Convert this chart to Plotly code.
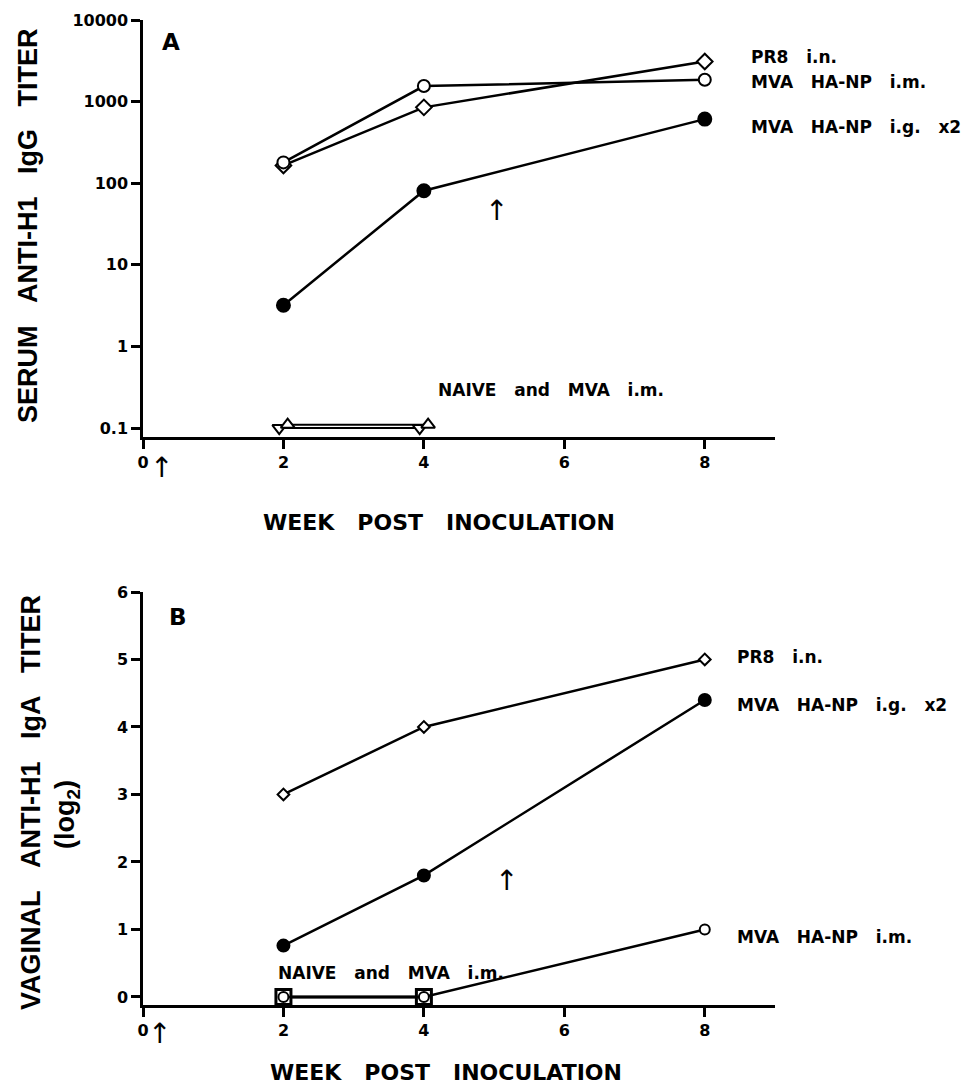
import plotly.graph_objects as go

# ---------------- DATA ----------------
weeks = [2, 4, 8]
# Panel A: serum anti-H1 IgG titer (log scale)
a_pr8_in = [165, 850, 3100]
a_mva_hanp_im = [180, 1550, 1850]
a_mva_hanp_ig = [3.2, 81, 610]
a_naive_weeks = [1.94, 3.94]
a_naive = [0.1, 0.1]
a_mva_im_weeks = [2.06, 4.06]
a_mva_im = [0.11, 0.11]

# Panel B: vaginal anti-H1 IgA titer (log2)
b_pr8_in = [3.0, 4.0, 5.0]
b_mva_hanp_ig = [0.76, 1.8, 4.4]
b_mva_hanp_im = [0.0, 0.0, 1.0]
b_naive_weeks = [2, 4]
b_naive = [0.0, 0.0]

x_ticks = [0, 2, 4, 6, 8]
a_ticks = [0.1, 1, 10, 100, 1000, 10000]
a_ticktext = ["0.1", "1", "10", "100", "1000", "10000"]
b_ticks = [0, 1, 2, 3, 4, 5, 6]

DJ = "DejaVu Sans"
LIB = "Liberation Sans, Arial, Helvetica, sans-serif"
W, H = 964, 1091
NB = "\u00a0"

def sp(s, n=3):
    return s.replace(" ", NB * n)

fig = go.Figure()

def line_trace(x, y, symbol, fill, size, xa, ya, lw=2.5, mlw=2):
    return go.Scatter(
        x=x, y=y, mode="lines+markers", xaxis=xa, yaxis=ya,
        line=dict(color="black", width=lw),
        marker=dict(symbol=symbol, size=size, color=fill,
                    line=dict(color="black", width=mlw)),
        cliponaxis=False, showlegend=False)

# Panel A traces
fig.add_trace(line_trace(a_naive_weeks, a_naive, "triangle-down", "white", 12, "x", "y", lw=2))
fig.add_trace(line_trace(a_mva_im_weeks, a_mva_im, "triangle-up", "white", 12, "x", "y", lw=2))
fig.add_trace(line_trace(weeks, a_pr8_in, "diamond", "white", 12, "x", "y"))
fig.add_trace(line_trace(weeks, a_mva_hanp_im, "circle", "white", 12, "x", "y"))
fig.add_trace(line_trace(weeks, a_mva_hanp_ig, "circle", "black", 13, "x", "y"))

# Panel B traces
fig.add_trace(line_trace(b_naive_weeks, b_naive, "square", "white", 15, "x2", "y2", lw=3, mlw=3))
fig.add_trace(line_trace(weeks, b_mva_hanp_im, "circle", "white", 10, "x2", "y2"))
fig.add_trace(line_trace(weeks, b_pr8_in, "diamond", "white", 9, "x2", "y2"))
fig.add_trace(line_trace(weeks, b_mva_hanp_ig, "circle", "black", 12, "x2", "y2"))

# domains from pixel layout
xdom = [143 / W, 775 / W]
ydomA = [1 - 437 / H, 1 - 20 / H]
ydomB = [1 - 1005 / H, 1 - 592 / H]

tickfont = dict(family=DJ, size=16, color="black", weight="bold")
axis_style = dict(ticks="outside", ticklen=9, tickwidth=2.5, showline=True, linewidth=2.5,
                  linecolor="black", showgrid=False, zeroline=False, tickfont=tickfont,
                  tickcolor="black", automargin=False)

fig.update_layout(
    template="none",
    width=W, height=H, margin=dict(l=0, r=0, t=0, b=0, pad=0),
    paper_bgcolor="white", plot_bgcolor="white", showlegend=False,
    xaxis=dict(domain=xdom, anchor="y", range=[0, 9], tickvals=x_ticks, **axis_style),
    yaxis=dict(domain=ydomA, anchor="x", type="log", range=[-1.11, 4],
               tickvals=a_ticks, ticktext=a_ticktext, **axis_style),
    xaxis2=dict(domain=xdom, anchor="y2", range=[0, 9], tickvals=x_ticks, **axis_style),
    yaxis2=dict(domain=ydomB, anchor="x2", range=[-0.12, 6], tickvals=b_ticks, **axis_style),
)

lab_font = dict(family=DJ, size=17, color="black", weight="bold")
big_font = dict(family=DJ, size=23, color="black", weight="bold")
arrow_font = dict(family=DJ, size=28, color="black")
xt_font = dict(family=DJ, size=22, color="black", weight="bold")
yt_font = dict(family=LIB, size=27, color="black", weight="bold")

def ann(text, x, y, xref, yref, font, xanchor="left", yanchor="middle", angle=0):
    fig.add_annotation(text=text, x=x, y=y, xref=xref, yref=yref, showarrow=False,
                       font=font, xanchor=xanchor, yanchor=yanchor, textangle=angle)

# Panel A in-plot labels (log axis -> log10 coordinates)
ann(sp("PR8 i.n."), 8.63, 3.55, "x", "y", lab_font)
ann(sp("MVA HA-NP i.m."), 8.63, 3.24, "x", "y", lab_font)
ann(sp("MVA HA-NP i.g. x2"), 8.63, 2.69, "x", "y", lab_font)
ann(sp("NAIVE and MVA i.m."), 5.81, -0.53, "x", "y", lab_font, xanchor="center")
ann("A", 0.4, 3.73, "x", "y", big_font, xanchor="center")
ann("↑", 5.03, 1.66, "x", "y", arrow_font, xanchor="center")
ann("↑", 0.26, 1 - 468 / H, "x", "paper", arrow_font, xanchor="center")

# Panel B in-plot labels
ann(sp("PR8 i.n."), 8.43, 5.04, "x2", "y2", lab_font)
ann(sp("MVA HA-NP i.g. x2"), 8.43, 4.33, "x2", "y2", lab_font)
ann(sp("MVA HA-NP i.m."), 8.43, 0.89, "x2", "y2", lab_font)
ann(sp("NAIVE and MVA i.m."), 3.53, 0.36, "x2", "y2", lab_font, xanchor="center")
ann("B", 0.5, 5.63, "x2", "y2", big_font, xanchor="center")
ann("↑", 5.17, 1.73, "x2", "y2", arrow_font, xanchor="center")
ann("↑", 0.24, 1 - 1033 / H, "x2", "paper", arrow_font, xanchor="center")

# Axis titles
ann(sp("WEEK POST INOCULATION"), 439 / W, 1 - 522 / H, "paper", "paper", xt_font, xanchor="center")
ann(sp("WEEK POST INOCULATION"), 446 / W, 1 - 1072 / H, "paper", "paper", xt_font, xanchor="center")
ann(sp("SERUM ANTI-H1 IgG TITER"), 28 / W, 1 - 226 / H, "paper", "paper", yt_font, xanchor="center", angle=-90)
ann(sp("VAGINAL ANTI-H1 IgA TITER"), 31 / W, 1 - 803 / H, "paper", "paper", yt_font, xanchor="center", angle=-90)
ann("(log<sub>2</sub>)", 67 / W, 1 - 815 / H, "paper", "paper", yt_font, xanchor="center", angle=-90)

fig.write_html("out.html", config={"displayModeBar": False},
               post_script="document.body.style.margin='0';")
